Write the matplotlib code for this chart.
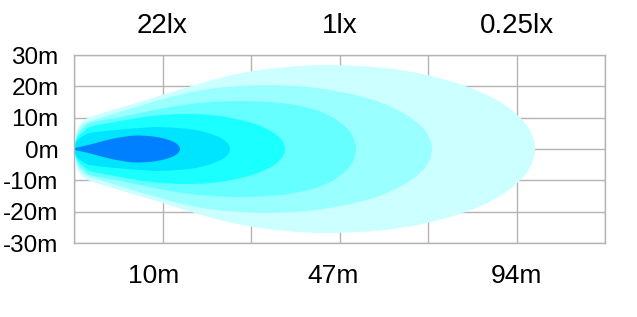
import numpy as np
import matplotlib.pyplot as plt
from matplotlib.path import Path
from matplotlib.patches import PathPatch

plt.rcParams['font.family'] = ['Liberation Sans', 'DejaVu Sans']

# beam outlines, upper half only: distance in grid columns, half width in m
# outermost (0.25lx) first, hot spot last
beam1_x = [0, 0.011, 0.045, 0.102, 0.181, 0.859, 1.650, 2.102, 2.554, 2.893,
           3.458, 3.910, 4.362, 4.701, 4.927, 5.096, 5.175, 5.209]
beam1_h = [0, 2.9, 6.7, 8.9, 10.2, 16.0, 22.7, 25.2, 26.5, 26.8,
           26.0, 24.1, 20.7, 16.8, 12.8, 8.3, 4.5, 0]

beam2_x = [0, 0.011, 0.045, 0.102, 0.181, 0.633, 1.028, 1.424, 1.763, 2.181,
           2.667, 3.119, 3.458, 3.740, 3.910, 4.000, 4.045]
beam2_h = [0, 2.2, 5.7, 7.7, 8.9, 12.8, 16.1, 18.7, 19.9, 20.4,
           19.7, 17.6, 14.9, 11.2, 7.6, 4.5, 0]

beam3_x = [0, 0.011, 0.045, 0.102, 0.181, 0.520, 1.085, 1.424, 1.706, 1.932,
           2.328, 2.554, 2.780, 2.949, 3.062, 3.141, 3.186]
beam3_h = [0, 1.9, 4.8, 6.7, 8.3, 10.2, 13.4, 14.7, 15.2, 15.3,
           14.7, 13.7, 12.0, 9.6, 7.2, 4.5, 0]

beam4_x = [0, 0.011, 0.045, 0.102, 0.181, 0.520, 0.859, 1.254, 1.593, 1.876,
           2.102, 2.271, 2.350, 2.384]
beam4_h = [0, 1.6, 3.8, 5.4, 7.0, 8.9, 10.5, 11.2, 10.7, 9.3,
           7.4, 4.9, 2.7, 0]

beam5_x = [0, 0.011, 0.045, 0.102, 0.181, 0.520, 0.746, 0.972, 1.345, 1.537,
           1.672, 1.740, 1.763]
beam5_h = [0, 1.3, 2.9, 4.1, 5.1, 6.2, 6.7, 7.0, 6.2, 4.9,
           3.3, 1.7, 0]

beam6_x = [0, 0.045, 0.181, 0.350, 0.520, 0.689, 0.859, 0.994, 1.107, 1.175, 1.198]
beam6_h = [0, 0.5, 1.4, 2.7, 3.7, 4.3, 4.1, 3.5, 2.5, 1.3, 0]

beam_colors = ['#ccffff', '#99ffff', '#66ffff', '#1affff', '#00e5ff', '#0080ff']

lux_labels = ['22lx', '1lx', '0.25lx']
lux_pos = [1, 3, 5]
dist_labels = ['10m', '47m', '94m']
dist_pos = [0.9, 2.93, 5.0]

y_ticks = [30, 20, 10, 0, -10, -20, -30]


def beam_path(ax, xs, hs):
    # closed outline: upper edge to the tip, lower edge back, smoothed
    px = list(xs) + list(xs[-2:0:-1])
    py = list(hs) + [-h for h in hs[-2:0:-1]]
    pts = ax.transData.transform(np.column_stack([px, py]))
    n = len(pts)
    verts = [pts[0]]
    codes = [Path.MOVETO]
    for i in range(n):
        p0, p1 = pts[i - 1], pts[i]
        p2, p3 = pts[(i + 1) % n], pts[(i + 2) % n]
        seg = np.linalg.norm(p2 - p1)
        t1 = p2 - p0
        t2 = p3 - p1
        c1 = p1 + t1 / np.linalg.norm(t1) * seg / 3
        c2 = p2 - t2 / np.linalg.norm(t2) * seg / 3
        verts += [c1, c2, p2]
        codes += [Path.CURVE4] * 3
    verts = ax.transData.inverted().transform(np.array(verts))
    return Path(verts, codes)


fig = plt.figure(figsize=(6.37, 3.17), dpi=100)
ax = fig.add_axes([74 / 637, 1 - 243 / 317, 531 / 637, 188 / 317])

ax.set_xlim(0, 6)
ax.set_ylim(-30, 30)
ax.set_xticks(range(7))
ax.set_xticklabels([])
ax.set_yticks(y_ticks)
ax.set_yticklabels([f'{v}m' for v in y_ticks], fontsize=17.5)
ax.tick_params(length=0, pad=11)
ax.set_axisbelow(True)
ax.grid(color='#b4b4b4', lw=1.0)
for s in ax.spines.values():
    s.set_color('#b4b4b4')
    s.set_linewidth(1.0)

beams = [(beam1_x, beam1_h), (beam2_x, beam2_h), (beam3_x, beam3_h),
         (beam4_x, beam4_h), (beam5_x, beam5_h), (beam6_x, beam6_h)]
for (bx, bh), col in zip(beams, beam_colors):
    ax.add_patch(PathPatch(beam_path(ax, bx, bh), facecolor=col,
                           edgecolor='none', zorder=2))

tr = ax.get_xaxis_transform()
for x, t in zip(lux_pos, lux_labels):
    ax.text(x, 1.154, t, transform=tr, ha='center', va='center', fontsize=20)
for x, t in zip(dist_pos, dist_labels):
    ax.text(x, -0.176, t, transform=tr, ha='center', va='center', fontsize=19)

fig.savefig('out.png', dpi=100)
